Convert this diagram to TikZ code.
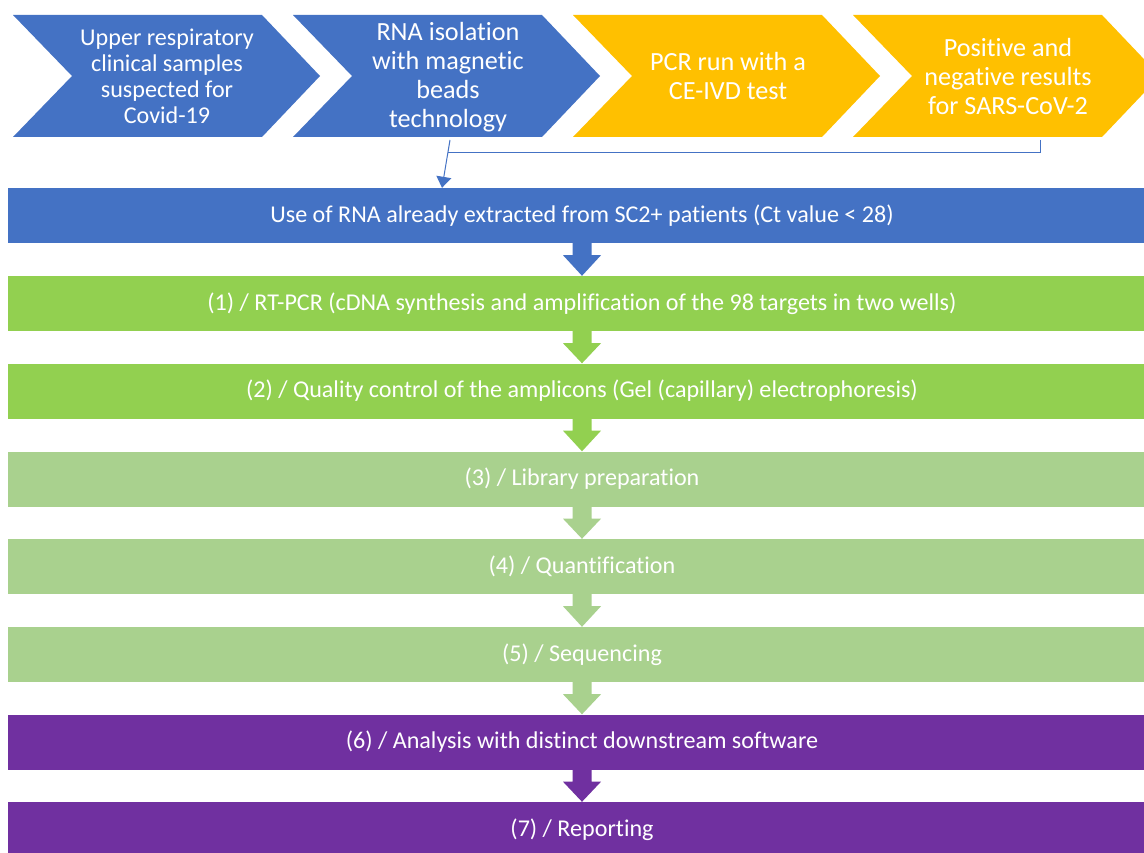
\documentclass[tikz,border=0pt]{standalone}
\usepackage{fontspec}
\setmainfont{Carlito}[Ligatures={NoCommon}]
\usetikzlibrary{calc,arrows.meta}
\definecolor{sblue}{HTML}{4472C4}
\definecolor{sgold}{HTML}{FFC000}
\definecolor{sgreen}{HTML}{92D050}
\definecolor{slgreen}{HTML}{A9D18E}
\definecolor{spurple}{HTML}{7030A0}
\tikzset{
  chevtext/.style={text=white, align=center, inner sep=0pt},
  smallchev/.style={chevtext, font=\fontsize{24.1}{26}\selectfont},
  bigchev/.style={chevtext, font=\fontsize{26.2}{29}\selectfont},
  stagebar/.style={fill=#1, minimum width=1148pt, minimum height=55pt, inner sep=0pt,
    text=white, font=\fontsize{24.1}{27}\selectfont},
  link/.style={draw=sblue, line width=1pt},
}
% a downward block arrow from the bottom of #1 to the top of #2
\newcommand\stagearrow[3]{%
  \fill[#3] ($(#1.south)+(-9.5,0)$) -- ($(#1.south)+(9.5,0)$) -- ($(#1.south)+(9.5,12)$)
    -- ($(#1.south)+(19,12)$) -- (#2.north) -- ($(#1.south)+(-19,12)$)
    -- ($(#1.south)+(-9.5,12)$) -- cycle;}
\begin{document}
\begin{tikzpicture}[x=1pt,y=-1pt]
\clip (0,0) rectangle (1144,853);
\fill[white] (0,0) rectangle (1144,853);

% process chevrons
\foreach \x/\c in {13/sblue,293/sblue,573/sgold,853/sgold}
  \fill[\c] (\x,15) -- ++(249,0) -- ++(58,61) -- ++(-58,61) -- ++(-249,0) -- ++(59,-61) -- cycle;

\node[smallchev] (c1) at (167,76) {Upper respiratory\\clinical samples\\suspected for\\Covid-19};
\node[bigchev] (c2) at (448,77) {RNA isolation\\with magnetic\\beads\\technology};
\node[bigchev] (c3) at (728,76) {PCR run with a\\CE-IVD test};
\node[bigchev] (c4) at (1008,76) {Positive and\\negative results\\for SARS-CoV-2};

% workflow stages
\node[stagebar=sblue]   (b0) at (582,215.5) {\raisebox{-1pt}{Use of RNA already extracted from SC2+ patients (Ct value < 28)}};
\node[stagebar=sgreen]  (b1) at (582,303.5) {\raisebox{-1pt}{(1) / RT-PCR (cDNA synthesis and amplification of the 98 targets in two wells)}};
\node[stagebar=sgreen]  (b2) at (582,391) {\raisebox{-1pt}{(2) / Quality control of the amplicons (Gel (capillary) electrophoresis)}};
\node[stagebar=slgreen] (b3) at (582,479) {\raisebox{-1pt}{(3) / Library preparation}};
\node[stagebar=slgreen] (b4) at (582,566.5) {\raisebox{-1pt}{(4) / Quantification}};
\node[stagebar=slgreen] (b5) at (582,654.5) {\raisebox{-1pt}{(5) / Sequencing}};
\node[stagebar=spurple] (b6) at (582,742) {\raisebox{-1pt}{(6) / Analysis with distinct downstream software}};
\node[stagebar=spurple] (b7) at (582,829.5) {\raisebox{-1pt}{(7) / Reporting}};

\stagearrow{b0}{b1}{sblue}
\stagearrow{b1}{b2}{sgreen}
\stagearrow{b2}{b3}{sgreen}
\stagearrow{b3}{b4}{slgreen}
\stagearrow{b4}{b5}{slgreen}
\stagearrow{b5}{b6}{slgreen}
\stagearrow{b6}{b7}{spurple}

% connectors from the chevrons to the first stage
\coordinate (c2foot) at (450,140);
\coordinate (c4foot) at (1040,140);
\coordinate (meet) at (448,152);
\draw[link, -{Triangle[width=15pt,length=11pt]}] (c2foot) -- ($(b0.north)+(-140,0)$);
\draw[link, line width=0.8pt] (c4foot) |- (meet);
\end{tikzpicture}
\end{document}
